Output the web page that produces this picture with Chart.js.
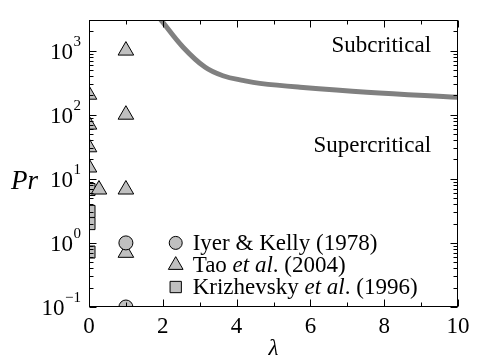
<!DOCTYPE html>
<html>
<head>
<meta charset="utf-8">
<script src="https://cdn.jsdelivr.net/npm/chart.js@4/dist/chart.umd.min.js"></script>
<style>
html,body{margin:0;padding:0;background:#fff;}
#wrap{width:501px;height:362px;position:relative;}
</style>
</head>
<body>
<div id="wrap"><canvas id="c" width="501" height="362"></canvas></div>
<script>
// ---- data ----
const curveLambda = [1.9, 2.0, 2.55, 3.14, 3.63, 4.2, 4.63, 5.72, 7.53, 10];
const curvePr     = [3300, 2770, 1130, 553, 405, 340, 308, 268, 224, 187];

const iyerLambda = [1, 1];
const iyerPr     = [1.0, 0.1];

const taoLambda = [0, 0, 0, 0, 0.27, 1, 1, 1, 1];
const taoPr     = [205, 70, 31, 15, 6.8, 1000, 100, 6.8, 0.7];

const krizLambda = [0, 0, 0, 0];
const krizPr     = [6.8, 3.1, 2.0, 0.72];

const xTicks = [0, 2, 4, 6, 8, 10];
const yDecades = [-1, 0, 1, 2, 3];

const FONT = '"Liberation Serif", "Times New Roman", serif';
const MARK_FILL = '#c0c0c0';

function pts(xs, ys){ return xs.map((x,i)=>({x:x, y:ys[i]})); }

const decor = {
  id: 'decor',
  afterDraw(chart){
    const ctx = chart.ctx;
    const a = chart.chartArea;
    const xs = chart.scales.x, ys = chart.scales.y;
    ctx.save();
    ctx.strokeStyle = '#000';
    ctx.lineWidth = 1;
    // frame
    ctx.strokeRect(Math.round(a.left)+0.5, Math.round(a.top)+0.5,
                   Math.round(a.right-a.left)-1, Math.round(a.bottom-a.top)-1);
    const L = Math.round(a.left)+0.5, R = Math.round(a.right)-0.5;
    const T = Math.round(a.top)+0.5, B = Math.round(a.bottom)-0.5;
    ctx.beginPath();
    // x ticks
    for (let v = 0; v <= 10; v++){
      const px = Math.round(xs.getPixelForValue(v))+0.5;
      const len = (v % 2 === 0) ? 7 : 4;
      ctx.moveTo(px, B); ctx.lineTo(px, B-len);
      ctx.moveTo(px, T); ctx.lineTo(px, T+len);
    }
    // y ticks
    for (let d = -1; d <= 3; d++){
      for (let m = 1; m <= 9; m++){
        const v = m * Math.pow(10, d);
        if (v > ys.max * 1.0001) continue;
        const py = Math.round(ys.getPixelForValue(v))+0.5;
        const len = (m === 1) ? 7 : 4;
        ctx.moveTo(L, py); ctx.lineTo(L+len, py);
        ctx.moveTo(R, py); ctx.lineTo(R-len, py);
      }
    }
    ctx.stroke();

    ctx.fillStyle = '#000';
    // x labels
    ctx.font = '23px ' + FONT;
    ctx.textAlign = 'center';
    ctx.textBaseline = 'alphabetic';
    xTicks.forEach(v => {
      ctx.fillText(String(v), xs.getPixelForValue(v), a.bottom + 26);
    });
    // y labels 10^d
    yDecades.forEach(d => {
      const py = ys.getPixelForValue(Math.pow(10, d));
      const exp = (d < 0) ? '\u2212' + Math.abs(d) : String(d);
      ctx.font = '15px ' + FONT;
      const ew = ctx.measureText(exp).width;
      const rightEdge = a.left - 8;
      ctx.textAlign = 'left';
      ctx.fillText(exp, rightEdge - ew, py - 5);
      ctx.font = '23px ' + FONT;
      ctx.textAlign = 'right';
      ctx.fillText('10', rightEdge - ew - 0.5, py + 8);
    });
    // axis titles
    ctx.font = 'italic 23px ' + FONT;
    ctx.textAlign = 'center';
    ctx.fillText('\u03bb', (a.left + a.right)/2, a.bottom + 48);
    ctx.font = 'italic 27px ' + FONT;
    ctx.textAlign = 'left';
    ctx.fillText('Pr', 11, ys.getPixelForValue(10) + 10);

    // region annotations
    ctx.font = '23px ' + FONT;
    ctx.textAlign = 'right';
    ctx.fillText('Subcritical', xs.getPixelForValue(9.27), ys.getPixelForValue(1000) + 1);
    ctx.fillText('Supercritical', xs.getPixelForValue(9.27), ys.getPixelForValue(26));

    // legend
    const lx = xs.getPixelForValue(2.35);
    const tx = lx + 17;
    const rows = [
      {style:'circle', r:6.5, y: ys.getPixelForValue(1.0), parts:[['Iyer & Kelly (1978)', false]]},
      {style:'triangle', r:8.5, y: ys.getPixelForValue(0.45), parts:[['Tao ', false], ['et al', true], ['. (2004)', false]]},
      {style:'rect', r:8, y: ys.getPixelForValue(0.205), parts:[['Krizhevsky ', false], ['et al', true], ['. (1996)', false]]}
    ];
    rows.forEach(row => {
      ctx.fillStyle = MARK_FILL;
      ctx.strokeStyle = '#000';
      ctx.lineWidth = 1;
      Chart.helpers.drawPoint(ctx, {pointStyle: row.style, radius: row.r, rotation: 0, borderWidth: 1}, lx, row.y);
      ctx.fillStyle = '#000';
      ctx.textAlign = 'left';
      let x = tx;
      row.parts.forEach(p => {
        ctx.font = (p[1] ? 'italic ' : '') + '23px ' + FONT;
        ctx.fillText(p[0], x, row.y + 7);
        x += ctx.measureText(p[0]).width;
      });
    });
    ctx.restore();
  }
};

new Chart(document.getElementById('c'), {
  type: 'scatter',
  data: {
    datasets: [
      {
        type: 'line',
        label: 'boundary',
        data: pts(curveLambda, curvePr),
        borderColor: '#808080',
        borderWidth: 5,
        pointRadius: 0,
        fill: false,
        tension: 0.4,
        clip: 0
      },
      {
        label: 'Iyer & Kelly (1978)',
        data: pts(iyerLambda, iyerPr),
        pointStyle: 'circle',
        pointRadius: 7,
        backgroundColor: MARK_FILL,
        borderColor: '#000',
        borderWidth: 1,
        clip: 0
      },
      {
        label: 'Tao et al. (2004)',
        data: pts(taoLambda, taoPr),
        pointStyle: 'triangle',
        pointRadius: 9,
        backgroundColor: MARK_FILL,
        borderColor: '#000',
        borderWidth: 1,
        clip: 0
      },
      {
        label: 'Krizhevsky et al. (1996)',
        data: pts(krizLambda, krizPr),
        pointStyle: 'rect',
        pointRadius: 8.5,
        backgroundColor: MARK_FILL,
        borderColor: '#000',
        borderWidth: 1,
        clip: 0
      }
    ]
  },
  options: {
    responsive: false,
    animation: false,
    devicePixelRatio: 1,
    layout: { padding: { top: 20, right: 43, left: 0, bottom: 0 } },
    plugins: { legend: { display: false }, tooltip: { enabled: false } },
    scales: {
      x: {
        type: 'linear', min: 0, max: 10,
        ticks: { display: false },
        grid: { display: false },
        border: { display: false },
        afterFit(s){ s.height = 55; }
      },
      y: {
        type: 'logarithmic', min: 0.1, max: 3000,
        ticks: { display: false },
        grid: { display: false },
        border: { display: false },
        afterFit(s){ s.width = 89; }
      }
    }
  },
  plugins: [decor]
});
</script>
</body>
</html>
